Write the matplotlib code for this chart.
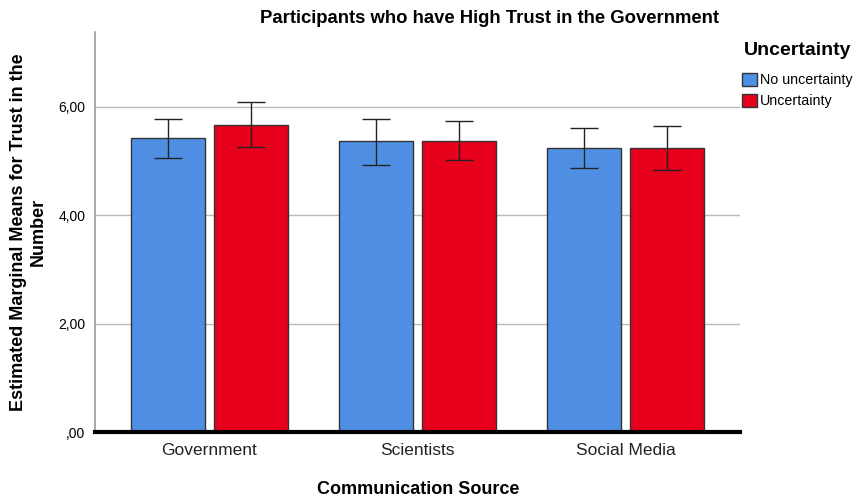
import numpy as np
import matplotlib.pyplot as plt
from matplotlib.patches import Patch

plt.rcParams["font.family"] = ["Liberation Sans", "DejaVu Sans"]

# Estimated marginal means with 95% CI bounds
sources = ["Government", "Scientists", "Social Media"]
no_unc_mean = [5.42, 5.36, 5.24]
no_unc_low = [5.06, 4.93, 4.87]
no_unc_high = [5.77, 5.78, 5.60]
unc_mean = [5.67, 5.37, 5.24]
unc_low = [5.25, 5.02, 4.84]
unc_high = [6.09, 5.73, 5.64]
yticks = [0, 2, 4, 6]
ytick_labels = [",00", "2,00", "4,00", "6,00"]

blue = "#4f8fe3"
red = "#e6001c"

fig = plt.figure(figsize=(8.6, 5), dpi=100)
ax = fig.add_axes([0.1105, 0.136, 0.75, 0.80])

x = np.arange(len(sources))
w = 0.355
off = 0.198

for means, lo, hi, col, shift in [
    (no_unc_mean, no_unc_low, no_unc_high, blue, -off),
    (unc_mean, unc_low, unc_high, red, off),
]:
    means = np.array(means)
    err = [means - np.array(lo), np.array(hi) - means]
    ax.bar(x + shift, means, width=w, color=col, edgecolor="#333333",
           linewidth=1.0, zorder=2)
    ax.errorbar(x + shift, means, yerr=err, fmt="none", ecolor="#222222",
                elinewidth=1.0, capsize=10, capthick=1.0, zorder=3)

ax.set_xlim(-0.55, 2.55)
ax.set_ylim(0, 7.38)
ax.set_yticks(yticks)
ax.set_yticklabels(ytick_labels, fontsize=10)
ax.set_xticks(x)
ax.set_xticklabels(sources, fontsize=12.5, color="#222222")
ax.tick_params(axis="both", length=0, pad=8)
ax.tick_params(axis="y", pad=7)

ax.yaxis.grid(True, color="#bbbbbb", linewidth=1.0, zorder=0)
ax.set_axisbelow(True)

for s in ["top", "right"]:
    ax.spines[s].set_visible(False)
ax.spines["left"].set_color("#999999")
ax.spines["left"].set_linewidth(1.2)
ax.spines["bottom"].set_color("black")
ax.spines["bottom"].set_linewidth(3)
ax.spines["bottom"].set_zorder(4)

ax.set_ylabel("Estimated Marginal Means for Trust in the\nNumber",
              fontsize=13, fontweight="bold", labelpad=8)
fig.text(0.486, 0.022, "Communication Source", ha="center", va="center",
         fontsize=13, fontweight="bold")

fig.text(0.569, 0.963, "Participants who have High Trust in the Government",
         ha="center", va="center", fontsize=13.3, fontweight="bold")

handles = [Patch(facecolor=blue, edgecolor="#333333", label="No uncertainty"),
           Patch(facecolor=red, edgecolor="#333333", label="Uncertainty")]
leg = fig.legend(handles=handles, title="Uncertainty", loc="upper left",
                 bbox_to_anchor=(0.855, 0.93), frameon=False, fontsize=10.3,
                 title_fontproperties={"weight": "bold", "size": 14},
                 handlelength=1.0, handleheight=1.0, handletextpad=0.2,
                 labelspacing=0.45, borderpad=0)
leg._legend_box.sep = 10

fig.savefig("out.png", dpi=100)
